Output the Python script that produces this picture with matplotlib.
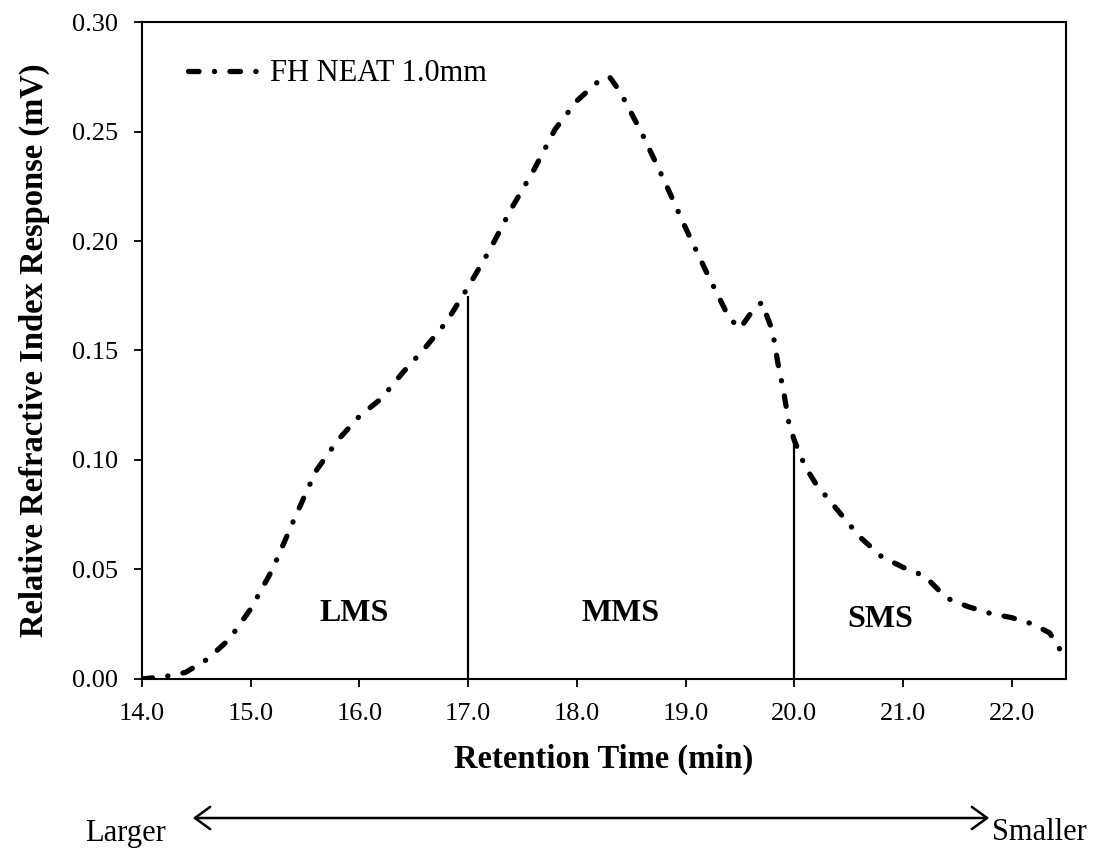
import matplotlib
matplotlib.use('Agg')
import matplotlib.pyplot as plt

plt.rcParams['font.family'] = ['Liberation Serif', 'DejaVu Serif']

# retention time (min) and RI response (mV)
time = [14.0, 14.2, 14.4, 14.6, 14.8, 15.0, 15.2, 15.4, 15.6, 15.8,
        16.0, 16.2, 16.4, 16.6, 16.8, 17.0, 17.2, 17.4, 17.6, 17.8,
        18.0, 18.2, 18.3, 18.4, 18.6, 18.8, 19.0, 19.2, 19.4, 19.5,
        19.6, 19.7, 19.8, 19.85, 19.9, 19.95, 20.0, 20.1, 20.2, 20.4,
        20.6, 20.8, 21.0, 21.2, 21.4, 21.6, 21.8, 22.0, 22.2, 22.35,
        22.45]
response = [0.000, 0.001, 0.003, 0.009, 0.018, 0.032, 0.050, 0.073, 0.095, 0.109,
            0.120, 0.128, 0.140, 0.151, 0.163, 0.179, 0.196, 0.215, 0.232, 0.251,
            0.264, 0.273, 0.275, 0.268, 0.249, 0.228, 0.206, 0.185, 0.165, 0.160,
            0.167, 0.172, 0.159, 0.144, 0.132, 0.117, 0.109, 0.097, 0.089, 0.077,
            0.065, 0.056, 0.051, 0.047, 0.037, 0.033, 0.030, 0.028, 0.025, 0.021,
            0.013]

cuts = [17.0, 20.0]
cut_heights = [0.175, 0.109]
regions = ['LMS', 'MMS', 'SMS']
region_x = [15.95, 18.4, 20.79]
region_y = [0.030, 0.030, 0.027]

fig = plt.figure(figsize=(11.13, 8.5), dpi=100)
ax = fig.add_axes([0.1276, 0.2012, 0.8302, 0.7729])

ax.plot(time, response, color='black', lw=3.8, dash_capstyle='round',
        dashes=(2.0, 2.9, 0.05, 2.9), label='FH NEAT 1.0mm')
ax.vlines(cuts, 0, cut_heights, color='black', lw=1.6)

for name, x, y in zip(regions, region_x, region_y):
    ax.text(x, y, name, ha='center', va='center', fontsize=23, fontweight='bold')

ax.set_xlim(14.0, 22.5)
ax.set_ylim(0, 0.30)
ax.set_xticks([14, 15, 16, 17, 18, 19, 20, 21, 22])
ax.set_xticklabels(['%.1f' % t for t in [14, 15, 16, 17, 18, 19, 20, 21, 22]])
ax.set_yticks([0, 0.05, 0.10, 0.15, 0.20, 0.25, 0.30])
ax.set_yticklabels(['%.2f' % t for t in [0, 0.05, 0.10, 0.15, 0.20, 0.25, 0.30]])
ax.tick_params(labelsize=19, direction='out', length=6, width=1.3)
ax.tick_params(axis='x', pad=11)
ax.tick_params(axis='y', pad=11)
for s in ax.spines.values():
    s.set_linewidth(1.5)

ax.set_xlabel('Retention Time (min)', fontsize=23.5, fontweight='bold', labelpad=14)
ax.set_ylabel('Relative Refractive Index Response (mV)', fontsize=23.5,
              fontweight='bold', labelpad=16)

leg = ax.legend(loc='upper left', bbox_to_anchor=(0.02, 0.985), frameon=False,
                fontsize=22, handlelength=2.6, handletextpad=0.1)

# size direction arrow under the chart
fig.add_artist(matplotlib.patches.FancyArrowPatch(
    (190 / 1113, 1 - 818 / 850), (992 / 1113, 1 - 818 / 850),
    transform=fig.transFigure, arrowstyle='<->,head_length=11,head_width=8',
    color='black', lw=1.8))
fig.text(125 / 1113, 1 - 833 / 850, 'Larger', ha='center', va='center', fontsize=22)
fig.text(1039 / 1113, 1 - 833 / 850, 'Smaller', ha='center', va='center', fontsize=22)

fig.savefig('out.png', dpi=100)
